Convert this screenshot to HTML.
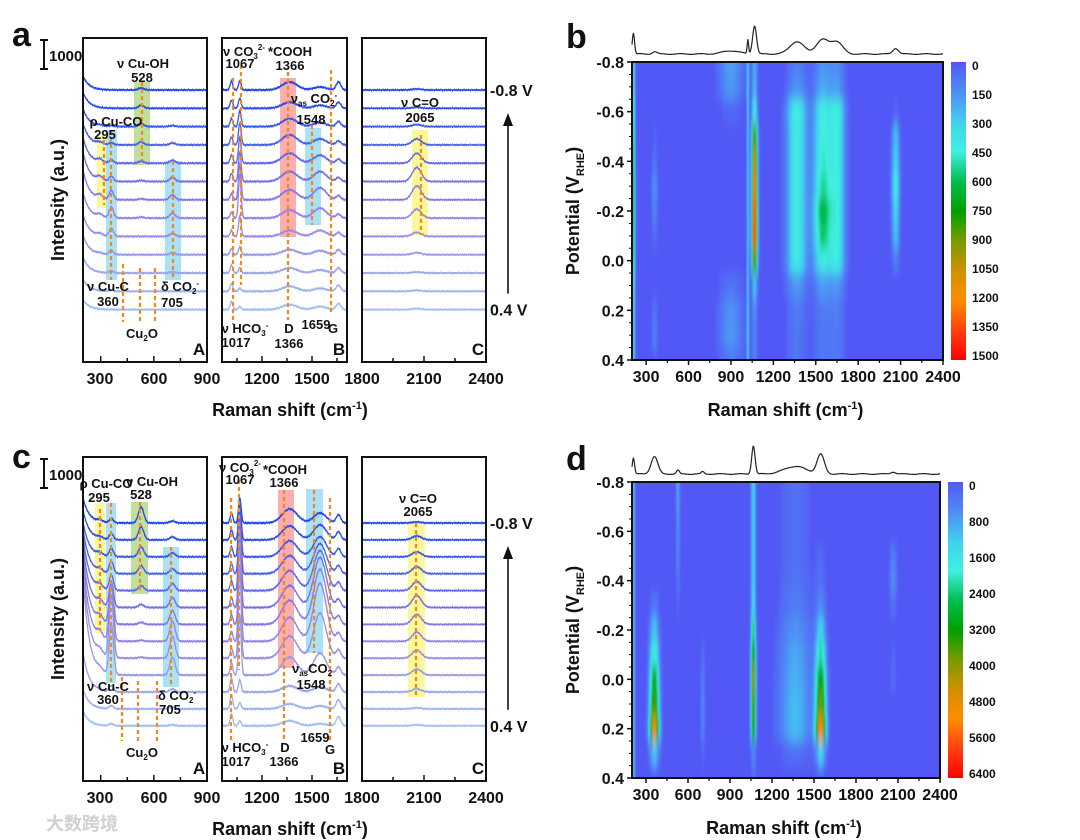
<!DOCTYPE html>
<html><head><meta charset="utf-8">
<style>
html,body{margin:0;padding:0;background:#fff;}
svg{display:block;font-family:"Liberation Sans","Noto Sans CJK SC",sans-serif;}
.t{font-weight:bold;fill:#111;}
</style></head>
<body>
<svg id="fig" width="1080" height="840" viewBox="0 0 1080 840" xmlns="http://www.w3.org/2000/svg">
<defs>
<filter id="vblur" x="-5%" y="-10%" width="110%" height="120%"><feGaussianBlur stdDeviation="0.8 7"/></filter>
<clipPath id="clipB"><rect x="632" y="62" width="311" height="298"/></clipPath>
<clipPath id="clipD"><rect x="632" y="482" width="308" height="296"/></clipPath>
</defs>
<g id="root"></g>
</svg>
<script>
// ---------- DATA ----------
const potentials=[-0.8,-0.7,-0.6,-0.5,-0.4,-0.3,-0.2,-0.1,0.0,0.1,0.2,0.3,0.4];
const bandCenters=[200,295,360,528,705,1017,1067,1366,1548,1659,2065];
const bandWidths=[35,16,12,15,15,8,8,45,38,14,22];
// panel a amplitudes (px) per band, rows -0.8 .. 0.4
const aBg200=[14,16,18,22,26,30,30,26,22,20,16,12,10];
const aAmp295=[0,0,1,2,3,4,4,3,2,1,0,0,0];
const aAmp360=[0,0,1,2,3,5,9,11,8,4,2,1,0];
const aAmp528=[2,3,3,3,2,1,1,1,0,0,0,0,0];
const aAmp705=[0,0,1,2,3,4,5,5,3,2,1,0,0];
const aAmp1017=[9,8,8,8,8,8,6,6,6,6,8,8,8];
const aAmp1067=[9,10,16,22,26,30,36,44,20,8,5,3,3];
const aAmp1366=[8,6,8,10,10,10,10,8,6,5,5,5,5];
const aAmp1548=[3,3,4,6,8,10,12,10,6,4,3,3,3];
const aAmp1659=[8,6,5,4,4,4,4,4,4,5,5,6,6];
const aAmp2065=[1,1,2,6,10,14,14,9,4,2,1,1,1];
// panel c amplitudes (px)
const cBg200=[25,30,35,45,55,65,75,85,95,100,40,20,15];
const cAmp295=[2,2,3,3,4,5,6,6,5,3,1,0,0];
const cAmp360=[4,6,8,12,15,25,40,55,62,50,6,3,2];
const cAmp528=[16,13,10,8,5,3,2,1,1,0,0,0,0];
const cAmp705=[2,3,4,5,7,10,14,20,22,18,3,2,1];
const cAmp1017=[10,10,10,10,10,10,10,10,10,12,14,14,12];
const cAmp1067=[25,40,55,65,75,85,95,100,90,60,12,6,5];
const cAmp1366=[14,14,16,18,20,22,24,24,22,18,6,5,5];
const cAmp1548=[10,15,20,30,40,50,55,58,45,22,5,3,2];
const cAmp1659=[8,8,8,8,8,8,8,8,8,8,8,9,9];
const cAmp2065=[1,4,5,7,9,12,10,9,8,6,3,1,1];
// heatmap b values (counts) per band
const bAmp210=[380,400,480,540,600,650,650,600,550,420,360,350,350];
const bAmp360=[0,0,0,40,80,160,130,60,0,0,80,120,40];
const bAmp900=[200,180,50,0,0,0,0,0,0,80,160,180,100];
const bAmp1020=[330,330,330,330,330,330,330,330,330,330,330,330,330];
const bAmp1067=[220,240,420,900,1100,1250,1350,1400,900,280,150,120,120];
const bAmp1366=[110,160,440,420,420,420,420,420,420,180,100,90,90];
const bAmp1548=[160,210,420,430,460,510,620,560,420,180,100,90,90];
const bAmp1650=[140,170,420,400,400,400,400,400,400,160,100,90,90];
const bAmp2065=[0,0,40,260,320,420,320,260,100,0,0,0,0];
// heatmap d values (counts)
const dAmp210=[1200,1200,1200,1200,1200,1200,1200,1200,1200,1200,1200,1200,1200];
const dAmp360=[0,0,0,0,100,400,1200,2000,3000,3600,5000,1200,150];
const dAmp528=[900,800,700,600,400,200,0,0,0,0,0,0,0];
const dAmp705=[0,0,0,0,0,0,0,300,500,600,600,200,0];
const dAmp1067=[1400,1400,1400,1400,1400,1500,2500,3500,4300,3800,3500,600,300];
const dAmp1366=[300,300,300,300,350,450,700,900,1000,1100,1100,300,100];
const dAmp1548=[0,0,100,200,300,600,1300,2200,3200,3800,5200,1300,150];
const dAmp2065=[0,0,0,500,700,300,0,200,250,0,0,0,0];
const bTicks=[0,150,300,450,600,750,900,1050,1200,1350,1500];
const dTicks=[0,800,1600,2400,3200,4000,4800,5600,6400];
const xTicksHeat=[300,600,900,1200,1500,1800,2100,2400];
const yTicksHeat=[-0.8,-0.6,-0.4,-0.2,0.0,0.2,0.4];

// ---------- helpers ----------
const NS="http://www.w3.org/2000/svg";
const root=document.getElementById('root');
function mk(tag,attrs,parent){const e=document.createElementNS(NS,tag);for(const k in attrs)e.setAttribute(k,attrs[k]);(parent||root).appendChild(e);return e;}
function txt(x,y,s,size,anchor,parent,name){const e=mk('text',{x:x,y:y,'font-size':size,'text-anchor':anchor||'middle','class':'t'},parent);e.textContent=s;


return e;}
const gauss=(x,c,w)=>Math.exp(-0.5*((x-c)/w)**2);

// ---------- spectra panels ----------
const boxes=[{lo:200,hi:900,x0:83,x1:207,lab:'A'},{lo:960,hi:1710,x0:222,x1:347,lab:'B'},{lo:1800,hi:2400,x0:362,x1:486,lab:'C'}];
function traceColor(i){
  const stops=[[30,70,235],[60,90,232],[110,110,232],[150,130,232],[150,160,232],[160,190,238]];
  const t=i/12*(stops.length-1);const k=Math.min(Math.floor(t),stops.length-2);const f=t-k;
  const c=stops[k].map((v,j)=>Math.round(v+(stops[k+1][j]-v)*f));return `rgb(${c[0]},${c[1]},${c[2]})`;
}
function spectraPanel(dy,first,step,amps,bg,ann,panelName){
  const grp=mk('g',{});
  
  
  ann.bands.forEach(b=>{const r=mk('rect',{x:b[0],y:b[1]+dy,width:b[2]-b[0],height:b[3]-b[1],fill:b[4]},grp);
    
    });
  for(let i=0;i<13;i++){
    const base=first+i*step+dy;
    boxes.forEach((bx,bi)=>{
      let d='';const sc=(bx.x1-bx.x0)/(bx.hi-bx.lo);
      for(let x=bx.lo;x<=bx.hi;x+=2){
        let v=bg[i]*Math.exp(-(x-200)/bandWidths[0]);
        for(let k=1;k<bandCenters.length;k++)v+=amps[k-1][i]*gauss(x,bandCenters[k],bandWidths[k]);
        v+=0.7*Math.sin(x*1.9+i*3.1)*Math.cos(x*0.73);
        const px=bx.x0+(x-bx.lo)*sc, py=base-v;
        d+=(d?'L':'M')+px.toFixed(1)+','+py.toFixed(1);
      }
      const p=mk('path',{d:d,fill:'none',stroke:traceColor(i),'stroke-width':1.3},grp);
      
      
    });
  }
  ann.lines.forEach(l=>{const e=mk('line',{x1:l[0],x2:l[0],y1:l[1]+dy,y2:l[2]+dy,stroke:'#f08a20','stroke-width':2.2,'stroke-dasharray':'4,3'},grp);
    
    });
  boxes.forEach(bx=>{const r=mk('rect',{x:bx.x0,y:38+dy,width:bx.x1-bx.x0,height:324,fill:'none',stroke:'#111','stroke-width':2},grp);
    
    
    txt(bx.x1-8,355+dy,bx.lab,17,'middle',grp,'subpanel-letter');
    const sc=(bx.x1-bx.x0)/(bx.hi-bx.lo);
    for(let v=Math.ceil(bx.lo/150)*150;v<=bx.hi;v+=150){const px=bx.x0+(v-bx.lo)*sc;mk('line',{x1:px,x2:px,y1:362+dy,y2:(v%300?358:356)+dy,stroke:'#111','stroke-width':1.5},grp);}
  });
  [[100,'300'],[154,'600'],[207,'900'],[262,'1200'],[312,'1500'],[362,'1800'],[424,'2100'],[486,'2400']].forEach(t=>txt(t[0],384+dy,t[1],16,'middle',grp,'x-tick-label'));
  txt(290,416+dy,'',18,'middle',grp,'x-axis-title').innerHTML='Raman shift (cm<tspan dy="-7" font-size="11">-1</tspan><tspan dy="7">)</tspan>';
  const yl=txt(0,0,'Intensity (a.u.)',18,'middle',grp,'y-axis-title');yl.setAttribute('transform',`translate(64,${200+dy}) rotate(-90)`);
  mk('path',{d:`M40,${40+dy}H48M44,${40+dy}V${69+dy}M40,${69+dy}H48`,stroke:'#111','stroke-width':2,fill:'none'},grp);
  txt(49,61+dy,'1000',15,'start',grp,'scale-bar-label');
  const yTop=first+dy+6, yBot=first+12*step+dy+6;
  txt(490,yTop,'-0.8 V',16,'start',grp,'potential-label-top');
  txt(490,yBot,'0.4 V',16,'start',grp,'potential-label-bottom');
  mk('line',{x1:508,x2:508,y1:yBot-22,y2:yTop+28,stroke:'#111','stroke-width':1.6},grp);
  mk('path',{d:`M503,${yTop+30}L508,${yTop+17}L513,${yTop+30}Z`,fill:'#111'},grp);
  ann.texts.forEach(t=>{const e=txt(t[0],t[1]+dy,'',13,'middle',grp,'peak-annotation');e.innerHTML=t[2];});
}
const Y='rgba(250,240,90,0.6)',Cy='rgba(100,200,240,0.55)',Gr='rgba(150,200,90,0.6)',Rd='rgba(250,120,120,0.6)';
spectraPanel(0,90,18.3,[aAmp295,aAmp360,aAmp528,aAmp705,aAmp1017,aAmp1067,aAmp1366,aAmp1548,aAmp1659,aAmp2065],aBg200,{
 bands:[[97,135,106,208,Y],[106,130,117,280,Cy],[134,82,150,165,Gr],[165,161,181,280,Cy],[280,78,296,237,Rd],[305,128,321,225,Cy],[412,130,428,235,Y]],
 lines:[[104,140,205],[111,130,280],[142,82,160],[173,161,280],[123,264,322],[140,268,322],[155,268,322],[233,78,325],[241,65,285],[288,72,320],[312,125,225],[331,70,315],[421,135,235]],
 texts:[[143,68,'ν Cu-OH'],[142,82,'528'],[116,126,'ρ Cu-CO'],[105,139,'295'],[108,291,'ν Cu-C'],[108,306,'360'],[180,291,'δ CO<tspan dy="3" font-size="8">2</tspan><tspan dy="-8" font-size="8">-</tspan>'],[172,307,'705'],[142,338,'Cu<tspan dy="3" font-size="8">2</tspan><tspan dy="-3">O</tspan>'],
  [244,56,'ν CO<tspan dy="3" font-size="8">3</tspan><tspan dy="-9" font-size="8">2-</tspan>'],[240,68,'1067'],[290,56,'*COOH'],[290,70,'1366'],[314,103,'ν<tspan dy="3" font-size="8">as</tspan><tspan dy="-3"> CO</tspan><tspan dy="3" font-size="8">2</tspan><tspan dy="-8" font-size="8">-</tspan>'],[311,124,'1548'],
  [245,333,'ν HCO<tspan dy="3" font-size="8">3</tspan><tspan dy="-8" font-size="8">-</tspan>'],[236,347,'1017'],[289,333,'D'],[289,348,'1366'],[316,329,'1659'],[333,333,'G'],[420,107,'ν C=O'],[420,122,'2065']]
},'panel-a-spectra');
spectraPanel(419,104,16.9,[cAmp295,cAmp360,cAmp528,cAmp705,cAmp1017,cAmp1067,cAmp1366,cAmp1548,cAmp1659,cAmp2065],cBg200,{
 bands:[[95,84,105,214,Y],[106,84,116,264,Cy],[131,83,148,175,Gr],[163,128,179,268,Cy],[278,71,294,249,Rd],[306,70,323,234,Cy],[408,104,425,278,Y]],
 lines:[[100,90,210],[111,84,264],[140,83,172],[171,128,268],[122,258,322],[138,262,322],[157,262,322],[231,79,321],[239,61,251],[284,71,321],[314,71,234],[330,79,321],[416,104,278]],
 texts:[[106,69,'ρ Cu-CO'],[99,83,'295'],[152,67,'ν Cu-OH'],[141,80,'528'],[108,272,'ν Cu-C'],[108,285,'360'],[177,281,'δ CO<tspan dy="3" font-size="8">2</tspan><tspan dy="-8" font-size="8">-</tspan>'],[170,295,'705'],[142,338,'Cu<tspan dy="3" font-size="8">2</tspan><tspan dy="-3">O</tspan>'],
  [240,53,'ν CO<tspan dy="3" font-size="8">3</tspan><tspan dy="-9" font-size="8">2-</tspan>'],[240,65,'1067'],[285,55,'*COOH'],[284,68,'1366'],[312,254,'ν<tspan dy="3" font-size="8">as</tspan><tspan dy="-3">CO</tspan><tspan dy="3" font-size="8">2</tspan>'],[311,270,'1548'],
  [245,333,'ν HCO<tspan dy="3" font-size="8">3</tspan><tspan dy="-8" font-size="8">-</tspan>'],[236,347,'1017'],[285,333,'D'],[284,347,'1366'],[315,323,'1659'],[330,335,'G'],[418,84,'ν C=O'],[418,97,'2065']]
},'panel-c-spectra');

// ---------- heatmaps ----------
const cmapStops=[[0,[82,88,245]],[0.1,[80,140,245]],[0.2,[64,208,240]],[0.3,[64,240,224]],[0.4,[0,190,80]],[0.5,[0,160,0]],[0.6,[120,155,0]],[0.7,[208,144,0]],[0.8,[255,140,0]],[0.9,[255,64,16]],[1,[255,0,0]]];
function cmap(t){t=Math.max(0,Math.min(1,t));for(let k=0;k<cmapStops.length-1;k++){const a=cmapStops[k],b=cmapStops[k+1];if(t<=b[0]){const f=(t-a[0])/(b[0]-a[0]);const c=a[1].map((v,j)=>Math.round(v+(b[1][j]-v)*f));return `rgb(${c[0]},${c[1]},${c[2]})`;}}return 'rgb(255,0,0)';}
function heatPanel(L,T,W,H,vmax,peaks,ticks,clip,name){
  const grp=mk('g',{});
  
  
  const xs=v=>L+(v-200)/2200*W, ys=p=>T+(p+0.8)/1.2*H;
  const val=(x,r)=>{let v=0;peaks.forEach(p=>v+=p[2][r]*gauss(x,p[0],p[1]));return v;};
  mk('rect',{x:L,y:T,width:W,height:H,fill:cmap(0)},grp);
  const cg=mk('g',{'clip-path':`url(#${clip})`},grp);
  const bl=mk('g',{filter:'url(#vblur)'},cg);
  const rowH=H/12;
  for(let r=0;r<13;r++){
    for(let x=200;x<2400;x+=5){
      const v=val(x+2.5,r);if(v<vmax*0.02)continue;
      const c=mk('rect',{x:xs(x).toFixed(2),y:(ys(potentials[r])-rowH/2).toFixed(2),width:(5/2200*W+0.4).toFixed(2),height:rowH+0.5,fill:cmap(v/vmax)},bl);
      
      
    }
  }
  mk('rect',{x:L,y:T,width:W,height:H,fill:'none',stroke:'#111','stroke-width':2},grp);
  xTicksHeat.forEach(v=>{mk('line',{x1:xs(v),x2:xs(v),y1:T+H,y2:T+H+5,stroke:'#111','stroke-width':1.5},grp);txt(xs(v),T+H+22,String(v),16,'middle',grp,'x-tick-label');});
  for(let v=450;v<2400;v+=300)mk('line',{x1:xs(v),x2:xs(v),y1:T+H,y2:T+H+3,stroke:'#111','stroke-width':1.2},grp);
  yTicksHeat.forEach(p=>{mk('line',{x1:L-5,x2:L,y1:ys(p),y2:ys(p),stroke:'#111','stroke-width':1.5},grp);txt(L-8,ys(p)+6,p.toFixed(1),16,'end',grp,'y-tick-label');});
  for(let p=-0.75;p<0.4;p+=0.05){mk('line',{x1:L-3,x2:L,y1:ys(p),y2:ys(p),stroke:'#111','stroke-width':1},grp);}
  txt(L+W/2-2,T+H+56,'',18,'middle',grp,'x-axis-title').innerHTML='Raman shift (cm<tspan dy="-7" font-size="11">-1</tspan><tspan dy="7">)</tspan>';
  const yt=txt(0,0,'',18,'middle',grp,'y-axis-title');yt.innerHTML='Potential (V<tspan dy="5" font-size="11">RHE</tspan><tspan dy="-5">)</tspan>';yt.setAttribute('transform',`translate(${L-53},${T+H/2}) rotate(-90)`);
  const cbx=L+W+8,cbw=15;
  const gid='cb'+clip;const lg=mk('linearGradient',{id:gid,x1:0,y1:0,x2:0,y2:1},document.querySelector('defs'));
  cmapStops.forEach(s=>mk('stop',{offset:s[0],'stop-color':cmap(s[0])},lg));
  const cb=mk('rect',{x:cbx,y:T,width:cbw,height:H,fill:`url(#${gid})`},grp);
  
  
  ticks.forEach(v=>txt(cbx+cbw+6,T+v/vmax*(H-8)+8,String(v),12,'start',grp,'colorbar-tick-label'));
  let d='';let mx=0;const mean=[];
  for(let x=200;x<=2400;x+=5){let s=0;for(let r=0;r<13;r++)s+=val(x,r);s/=13;mean.push([x,s]);mx=Math.max(mx,s);}
  mean.forEach(([x,s],k)=>{d+=(k?'L':'M')+xs(x).toFixed(1)+','+(T-8-s/mx*28+0.4*Math.sin(x*1.3)).toFixed(1);});
  const sp=mk('path',{d:d,fill:'none',stroke:'#222','stroke-width':1.2},grp);
  
  
}
heatPanel(632,62,311,298,1500,[[210,8,bAmp210],[360,16,bAmp360],[900,60,bAmp900],[1020,5,bAmp1020],[1067,14,bAmp1067],[1366,50,bAmp1366],[1548,45,bAmp1548],[1650,40,bAmp1650],[2065,20,bAmp2065]],bTicks,'clipB','panel-b-heatmap');
heatPanel(632,482,308,296,6400,[[210,8,dAmp210],[360,24,dAmp360],[528,10,dAmp528],[705,10,dAmp705],[1067,12,dAmp1067],[1366,80,dAmp1366],[1548,26,dAmp1548],[2065,18,dAmp2065]],dTicks,'clipD','panel-d-heatmap');

[[12,46,'a'],[566,48,'b'],[12,468,'c'],[566,470,'d']].forEach(l=>txt(l[0],l[1],l[2],34,'start',root,'panel-letter-'+l[2]));
const wm=txt(46,830,'大数跨境',18,'start',root,'watermark');wm.setAttribute('style','fill:#d0d0d0');
</script>
</body></html>
